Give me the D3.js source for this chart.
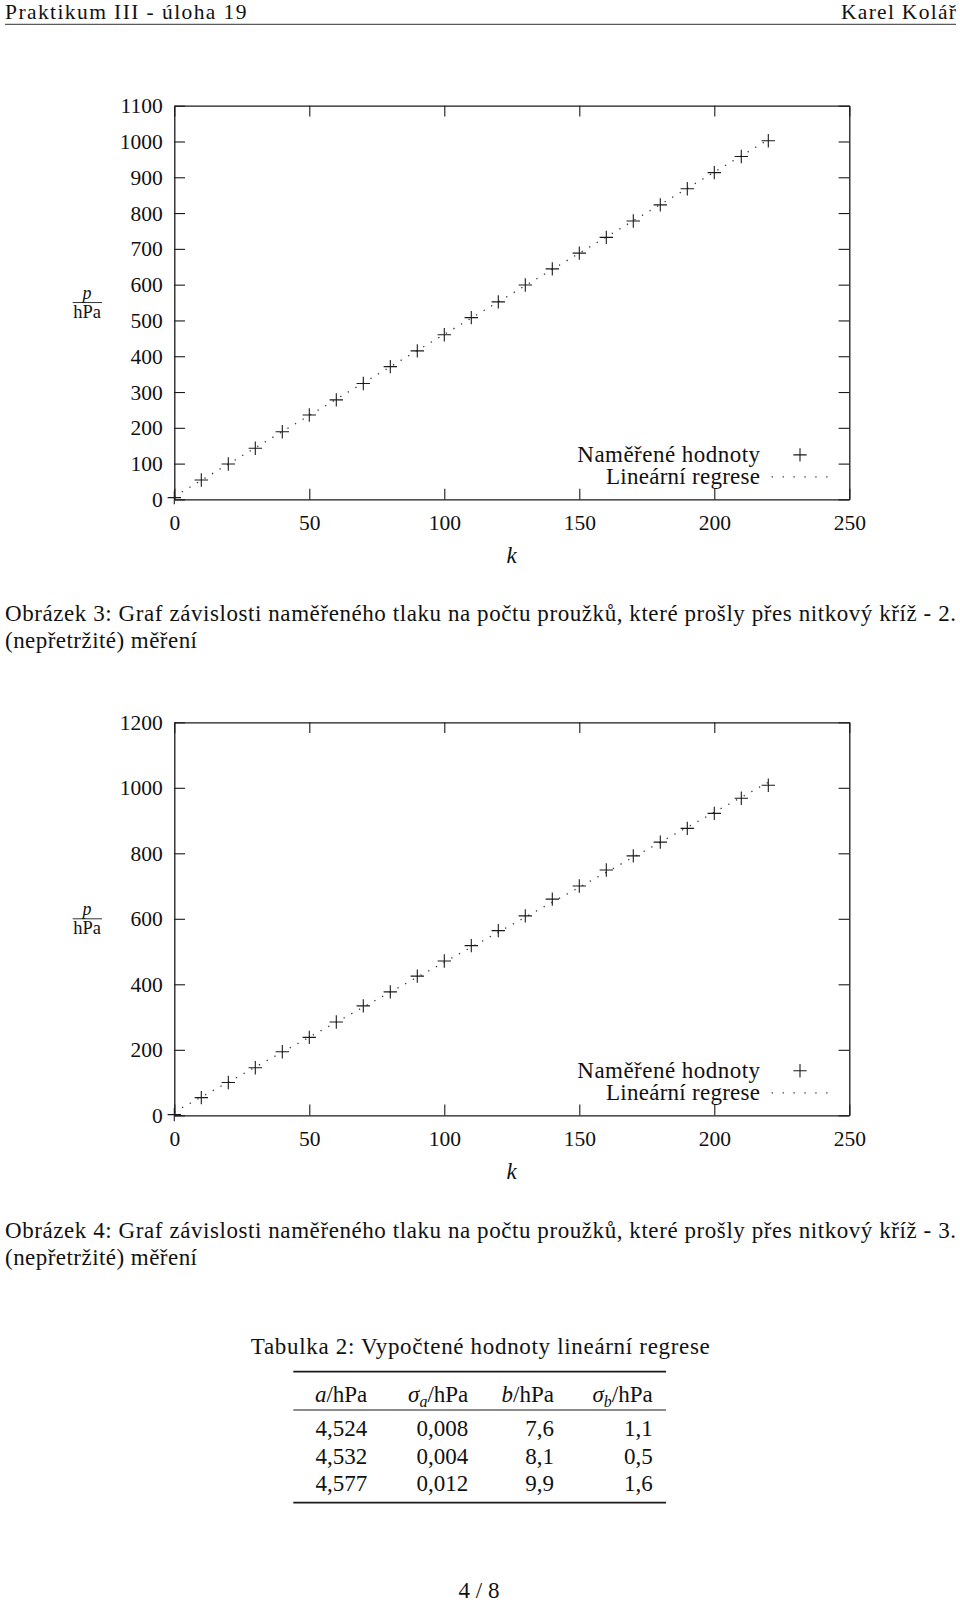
<!DOCTYPE html>
<html><head><meta charset="utf-8">
<script src="https://cdn.jsdelivr.net/npm/d3@7"></script>
<style>
body{margin:0;background:#fff}
svg text{font-family:"Liberation Serif","Times New Roman",serif;fill:#111}
</style>
</head><body>
<svg id="c" width="960" height="1604"></svg>
<script>
// ---------- data ----------
const kValues = [0,10,20,30,40,50,60,70,80,90,100,110,120,130,140,150,160,170,180,190,200,210,220];
const pMeasured2 = [5,54,99,143,189,236,278,324,371,415,460,508,552,599,644,688,732,778,823,868,913,958,1002];
const pMeasured3 = [2,54,100,145,194,238,285,334,377,425,471,518,564,609,660,700,749,792,834,876,922,968,1008];
const xTickValues = [0,50,100,150,200,250];
const yTicks1 = [0,100,200,300,400,500,600,700,800,900,1000,1100];
const yTicks2 = [0,200,400,600,800,1000,1200];
const regA = [4.524,4.532,4.577];
const regB = [7.6,8.1,9.9];
const tblA = ["4,524","4,532","4,577"];
const tblSigA = ["0,008","0,004","0,012"];
const tblB = ["7,6","8,1","9,9"];
const tblSigB = ["1,1","0,5","1,6"];
const legendLabels = ["Naměřené hodnoty","Lineární regrese"];
const captions = [
  ["Obrázek 3: Graf závislosti naměřeného tlaku na počtu proužků, které prošly přes nitkový kříž - 2.","(nepřetržité) měření"],
  ["Obrázek 4: Graf závislosti naměřeného tlaku na počtu proužků, které prošly přes nitkový kříž - 3.","(nepřetržité) měření"]
];

// ---------- drawing ----------
const svg = d3.select("#c");
const INK = "#1a1a1a";
function fit(sel, w){ sel.attr("textLength", w).attr("lengthAdjust","spacing"); return sel; }

// page header
fit(svg.append("text").attr("x",5).attr("y",19.3).attr("font-size",21.5).text("Praktikum III - úloha 19"),241.5);
fit(svg.append("text").attr("x",956).attr("y",19.3).attr("font-size",21.5).attr("text-anchor","end").text("Karel Kolář"),115);
svg.append("line").attr("x1",5).attr("x2",956).attr("y1",24.3).attr("y2",24.3).attr("stroke",INK).attr("stroke-width",0.9);

function plus(x,y,r){ return `M${x-r},${y}H${x+r}M${x},${y-r}V${y+r}`; }

function drawChart(cfg){
  const x = d3.scaleLinear().domain([0,250]).range([174.3,849.3]);
  const y = d3.scaleLinear().domain([0,cfg.yMax]).range([cfg.bottom,cfg.top]);
  const g = svg.append("g");
  const T = 10.7;

  const left = g.append("g").attr("transform",`translate(${x(0)},0)`)
    .call(d3.axisLeft(y).tickValues(cfg.yTicks).tickSizeInner(-T).tickSizeOuter(0).tickPadding(11.6).tickFormat(d3.format("d")));
  const bottom = g.append("g").attr("transform",`translate(0,${y(0)})`)
    .call(d3.axisBottom(x).tickValues(xTickValues).tickSizeInner(-T).tickSizeOuter(0).tickFormat(d3.format("d")));
  const right = g.append("g").attr("transform",`translate(${x(250)},0)`)
    .call(d3.axisRight(y).tickValues(cfg.yTicks).tickSizeInner(-T).tickSizeOuter(0).tickFormat(""));
  const top = g.append("g").attr("transform",`translate(0,${y(cfg.yMax)})`)
    .call(d3.axisTop(x).tickValues(xTickValues).tickSizeInner(-T).tickSizeOuter(0).tickFormat(""));
  [left,bottom,right,top].forEach(a=>{
    a.attr("font-family",null).attr("font-size",null);
    a.selectAll("line").attr("stroke",INK).attr("stroke-width",1.1);
    a.select(".domain").attr("stroke",INK).attr("stroke-width",1.3);
    a.selectAll("text").attr("fill",INK).attr("font-size",21.5);
  });
  left.selectAll("text").attr("dy","0.33em");
  bottom.selectAll("text").attr("y",24).attr("dy","0.33em");

  // axis titles
  svg.append("text").attr("x",511.7).attr("y",y(0)+56).attr("dy","0.33em").attr("text-anchor","middle")
    .attr("font-size",23).attr("font-style","italic").text("k");
  const mid = (cfg.top+cfg.bottom)/2;
  svg.append("text").attr("x",87).attr("y",mid-4).attr("text-anchor","middle")
    .attr("font-size",18).attr("font-style","italic").text("p");
  svg.append("line").attr("x1",72.7).attr("x2",102).attr("y1",mid).attr("y2",mid).attr("stroke",INK).attr("stroke-width",0.9);
  svg.append("text").attr("x",87).attr("y",mid+15).attr("text-anchor","middle")
    .attr("font-size",18.5).text("hPa");

  // regression line (dotted)
  const line = d3.line().x(d=>x(d)).y(d=>y(cfg.a*d+cfg.b));
  g.append("path").datum([kValues[0],kValues[kValues.length-1]]).attr("d",line)
    .attr("fill","none").attr("stroke","#333").attr("stroke-width",1.3)
    .attr("stroke-dasharray","1.3,7.5");

  // measured points
  g.selectAll("path.pt").data(kValues.map((k,i)=>[k,cfg.p[i]])).join("path").attr("class","pt")
    .attr("d",d=>plus(x(d[0]),y(d[1]),6.7)).attr("stroke",INK).attr("stroke-width",1.1).attr("fill","none");

  // legend
  const ly1 = y(0)-44.5, ly2 = y(0)-22.5;
  fit(svg.append("text").attr("x",760).attr("y",ly1).attr("dy","0.33em").attr("text-anchor","end")
    .attr("font-size",23).text(legendLabels[0]),182.7);
  fit(svg.append("text").attr("x",760).attr("y",ly2).attr("dy","0.33em").attr("text-anchor","end")
    .attr("font-size",23).text(legendLabels[1]),154);
  g.append("path").attr("d",plus(800,ly1,6.7)).attr("stroke",INK).attr("stroke-width",1.1);
  g.append("line").attr("x1",771.7).attr("x2",829).attr("y1",ly2).attr("y2",ly2)
    .attr("stroke","#333").attr("stroke-width",1.3).attr("stroke-dasharray","1.3,9.6");

  // caption
  fit(svg.append("text").attr("x",5).attr("y",cfg.capY).attr("font-size",23).text(cfg.caption[0]),951);
  fit(svg.append("text").attr("x",5).attr("y",cfg.capY+26.7).attr("font-size",23).text(cfg.caption[1]),192);
}

drawChart({top:105.7,bottom:499.4,yMax:1100,yTicks:yTicks1,p:pMeasured2,a:regA[1],b:regB[1],caption:captions[0],capY:621});
drawChart({top:722.3,bottom:1115.3,yMax:1200,yTicks:yTicks2,p:pMeasured3,a:regA[2],b:regB[2],caption:captions[1],capY:1238});

// ---------- table ----------
fit(svg.append("text").attr("x",480.3).attr("y",1346.7).attr("dy","0.33em").attr("text-anchor","middle")
  .attr("font-size",23).text("Tabulka 2: Vypočtené hodnoty lineární regrese"),459);
const tx0 = 293.3, tx1 = 666;
svg.append("line").attr("x1",tx0).attr("x2",tx1).attr("y1",1371.7).attr("y2",1371.7).attr("stroke",INK).attr("stroke-width",1.7);
svg.append("line").attr("x1",tx0).attr("x2",tx1).attr("y1",1410).attr("y2",1410).attr("stroke",INK).attr("stroke-width",1.0);
svg.append("line").attr("x1",tx0).attr("x2",tx1).attr("y1",1502.7).attr("y2",1502.7).attr("stroke",INK).attr("stroke-width",1.7);
const colRight = [367.3,468.3,554,652.7];
const headers = [
  [["a","italic",false],["/hPa",null,false]],
  [["σ","italic",false],["a","italic",true],["/hPa",null,false]],
  [["b","italic",false],["/hPa",null,false]],
  [["σ","italic",false],["b","italic",true],["/hPa",null,false]]
];
headers.forEach((h,i)=>{
  const t = svg.append("text").attr("x",colRight[i]).attr("y",1394).attr("dy","0.33em")
    .attr("text-anchor","end").attr("font-size",23);
  let wasSub = false;
  h.forEach(([s,style,sub],j)=>{
    const ts = t.append("tspan").text(s);
    if(style) ts.attr("font-style",style);
    if(sub){ ts.attr("font-size",16).attr("dy","5"); wasSub = true; }
    else if(wasSub){ ts.attr("dy","-5"); wasSub = false; }
    else if(j===0){ ts.attr("dy","0.33em"); }
  });
  t.attr("dy",null);
});
const rows = tblA.map((a,i)=>[a,tblSigA[i],tblB[i],tblSigB[i]]);
const rowY = [1428.3,1456.2,1483.3];
rows.forEach((r,ri)=>{
  r.forEach((v,ci)=>{
    svg.append("text").attr("x",colRight[ci]).attr("y",rowY[ri]).attr("dy","0.33em")
      .attr("text-anchor","end").attr("font-size",23).text(v);
  });
});

// page number
svg.append("text").attr("x",479).attr("y",1590).attr("dy","0.33em").attr("text-anchor","middle")
  .attr("font-size",23).text("4 / 8");
</script>
</body></html>
